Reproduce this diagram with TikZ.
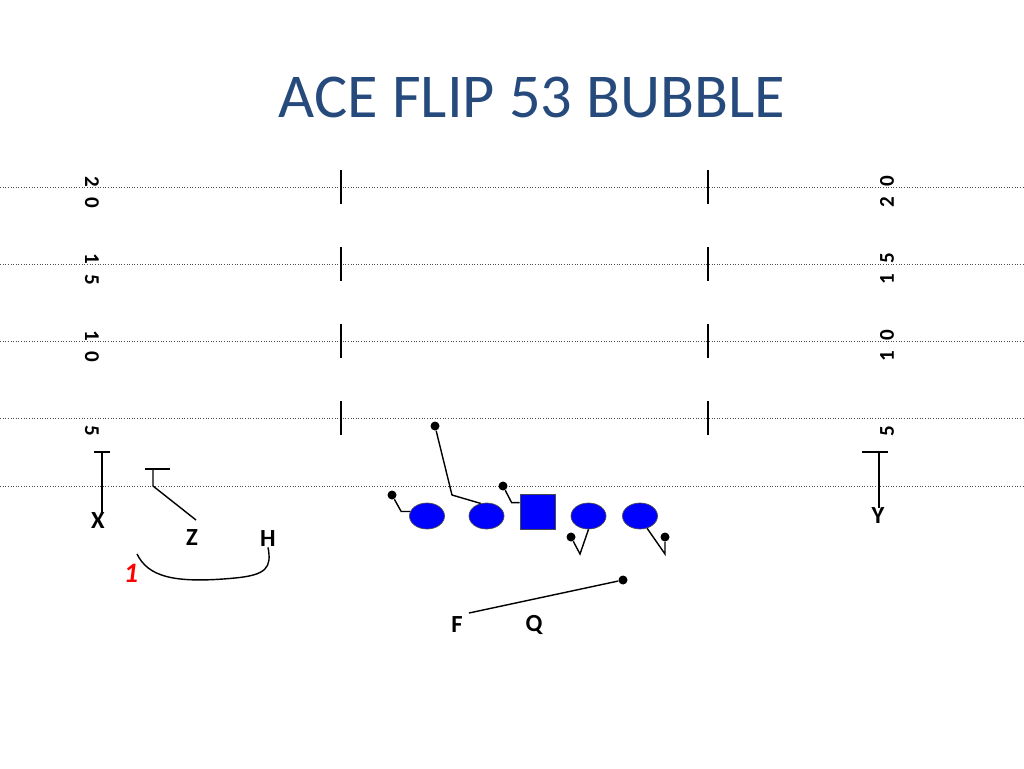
\documentclass[tikz,border=0pt]{standalone}
\usepackage{fontspec}
\setmainfont{Carlito}
\usepackage{xcolor}
\usetikzlibrary{positioning,shapes.geometric}
\definecolor{TitleBlue}{HTML}{264A7C}
\definecolor{LineBlue}{HTML}{0000FF}

\begin{document}
\begin{tikzpicture}[x=0.02cm, y=-0.02cm,
        yardline/.style={draw=black!70, densely dotted, line width=0.5pt},
        hashmark/.style={draw=black, line width=0.8pt},
        yardnum/.style={font=\fontsize{12}{14}\selectfont\bfseries, inner sep=0pt},
        lineman/.style={ellipse, draw=black!70, fill=LineBlue, minimum width=0.7cm, minimum height=0.52cm, inner sep=0pt, line width=0.4pt},
        snapper/.style={rectangle, draw=black!70, fill=LineBlue, minimum size=0.7cm, inner sep=0pt, line width=0.4pt},
        player/.style={font=\fontsize{14}{16}\selectfont\bfseries, inner sep=0pt},
        route/.style={draw=black, line width=0.8pt},
        blockdot/.style={circle, fill=black, minimum size=0.18cm, inner sep=0pt}
    ]
        \useasboundingbox (0,0) rectangle (1024,768);

        \node [font=\fontsize{35.5}{42}\selectfont, text=TitleBlue] (title) at (532,97) {ACE FLIP 53 BUBBLE};

        \foreach \y in {187,264,341,418,486}
            \draw [yardline] (0,\y) -- (1024,\y);
        \foreach \y in {187,264,341,418} {
            \draw [hashmark] (341,\y-17) -- (341,\y+17);
            \draw [hashmark] (708,\y-17) -- (708,\y+17);
        }

        \node [yardnum, rotate=-90] (l20) at (92,192) {2\enspace0};
        \node [yardnum, rotate=-90] (l15) at (92,269) {1\enspace5};
        \node [yardnum, rotate=-90] (l10) at (92,346) {1\enspace0};
        \node [yardnum, rotate=-90] (l5) at (92,431) {5};
        \node [yardnum, rotate=90] (r20) at (887,192) {2\enspace0};
        \node [yardnum, rotate=90] (r15) at (887,269) {1\enspace5};
        \node [yardnum, rotate=90] (r10) at (887,346) {1\enspace0};
        \node [yardnum, rotate=90] (r5) at (887,431) {5};

        \node [player] (x) at (98,521) {X};
        \coordinate (xtop) at (102,452);
        \draw [route] (xtop) -- (x.north -| xtop);
        \draw [route] (xtop) ++(-8,0) -- ++(16,0);

        \node [player] (z) at (192,538) {Z};
        \coordinate (zstart) at (196,520);
        \coordinate (zbreak) at (153,486);
        \coordinate (ztop) at (153,469);
        \draw [route] (zstart) -- (zbreak) -- (ztop);
        \draw [route] (ztop) ++(-8,0) -- ++(25,0);

        \node [player] (h) at (268,539) {H};
        \coordinate (hend) at (137,554);
        \draw [route] (h.south) .. controls (272,568) and (266,575) .. (235,578) .. controls (172,584) and (148,576) .. (hend);
        \node [font=\fontsize{16}{18}\selectfont\bfseries\itshape, text=red, inner sep=0pt] (one) at (131,573) {1};

        \node [lineman] (lt) at (427,516) {};
        \node [lineman] (lg) at (486.5,516) {};
        \node [snapper] (c) at (537.5,511.5) {};
        \node [lineman] (rg) at (588.5,516) {};
        \node [lineman] (rt) at (640,516) {};

        \node [blockdot] (ltdot) at (392,495) {};
        \node [blockdot] (lgdot) at (435,426) {};
        \node [blockdot] (cdot) at (503,486) {};
        \node [blockdot] (rgdot) at (571,537) {};
        \node [blockdot] (rtdot) at (665,537) {};
        \draw [route] (lt.165) -- ++(-9,0) -- (ltdot);
        \draw [route] (lg.115) -- (452,495) -- (lgdot);
        \draw [route] (c.north west) ++(0,9) -- ++(-8,0) -- (cdot);
        \draw [route] (rg.south) -- (580,554) -- (rgdot);
        \draw [route] (rt.300) -- (665,554) -- (rtdot);

        \node [player] (f) at (457,625) {F};
        \node [player] (q) at (534,625) {Q};
        \node [blockdot] (fdot) at (623,580) {};
        \coordinate (fstart) at (469,613);
        \draw [route] (fstart) -- (fdot);

        \node [player] (y) at (878,516) {Y};
        \coordinate (ytop) at (879,452);
        \draw [route] (ytop) -- (y.north -| ytop);
        \draw [route] (ytop) ++(-17,0) -- ++(26,0);
    \end{tikzpicture}
\end{document}
